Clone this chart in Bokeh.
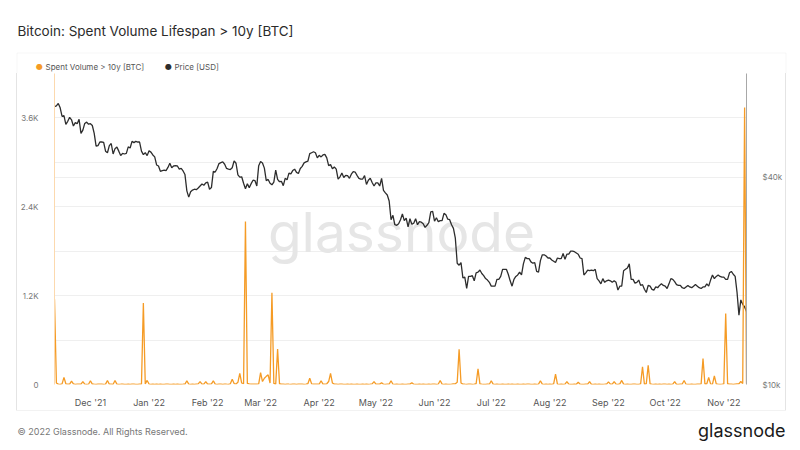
import pandas as pd
from bokeh.plotting import figure
from bokeh.layouts import column, row
from bokeh.models import (Range1d, LogScale, LogAxis, FixedTicker, Grid, Label, Spacer,
                          BoxAnnotation, DatetimeTickFormatter)
from bokeh.embed import file_html
from bokeh.resources import INLINE

# ---------------- data ----------------
start_date = "2021-11-12"
end_date = "2022-11-13"

# Spent volume > 10y [BTC], daily
vol_nov21 = [1150, 20, 5, 3, 8, 97, 10, 4, 6, 45, 8, 3, 5, 4, 6, 40, 5, 3, 4]
vol_dec21 = [50, 6, 4, 3, 5, 4, 6, 3, 5, 55, 4, 6, 3, 55, 5, 3, 4, 6, 3, 2,
             4, 3, 5, 4, 3, 2, 4, 6, 1100, 8, 55]
vol_jan22 = [6, 3, 4, 2, 5, 3, 4, 2, 3, 5, 4, 3, 2, 4, 3, 5, 2, 3, 4, 6,
             50, 5, 3, 4, 2, 5, 8, 40, 6, 4, 40]
vol_feb22 = [5, 4, 8, 50, 6, 3, 4, 5, 3, 6, 4, 3, 10, 70, 12, 8, 30, 150, 20, 10,
             2200, 15, 8, 5, 6, 4, 5, 8]
vol_mar22 = [160, 40, 85, 110, 130, 20, 1240, 15, 5, 480, 10, 5, 4, 3, 6, 4, 3, 5, 4, 3,
             6, 4, 5, 3, 6, 10, 85, 8, 5, 4, 6]
vol_apr22 = [5, 50, 6, 4, 10, 40, 150, 20, 5, 4, 3, 5, 4, 3, 2, 4, 3, 5, 2, 3,
             4, 3, 2, 4, 3, 5, 3, 4, 8, 40]
vol_may22 = [6, 4, 5, 25, 4, 3, 5, 6, 50, 4, 3, 5, 2, 3, 4, 2, 3, 4, 5, 25,
             4, 3, 2, 4, 3, 5, 2, 3, 4, 3, 5]
vol_jun22 = [4, 3, 6, 55, 5, 3, 4, 2, 3, 5, 8, 10, 30, 475, 20, 6, 4, 3, 5, 4,
             3, 6, 10, 210, 8, 4, 3, 2, 5, 4]
vol_jul22 = [50, 5, 3, 4, 2, 3, 4, 3, 2, 5, 3, 4, 2, 3, 5, 3, 2, 4, 3, 5,
             4, 3, 2, 4, 3, 6, 50, 5, 3, 4, 2]
vol_aug22 = [4, 3, 8, 140, 6, 3, 4, 2, 5, 40, 4, 3, 2, 5, 3, 30, 4, 3, 2, 5,
             4, 40, 3, 2, 4, 3, 5, 2, 3, 4, 6]
vol_sep22 = [35, 6, 5, 40, 4, 3, 8, 55, 5, 3, 4, 2, 3, 5, 4, 3, 2, 8, 240, 6,
             10, 260, 8, 4, 3, 5, 2, 4, 3, 5]
vol_oct22 = [4, 3, 5, 2, 4, 40, 3, 2, 4, 6, 55, 4, 3, 2, 4, 3, 2, 5, 4, 8,
             350, 6, 10, 95, 8, 6, 115, 8, 4, 3, 5]
vol_nov22 = [8, 960, 10, 5, 4, 3, 6, 8, 10, 40, 12, 3740, 15]

# Price [USD], daily, in thousands
px_nov21 = [64.1, 64.4, 65.5, 63.6, 60.1, 60.4, 56.9, 58.1, 59.7, 58.7, 56.3, 57.6, 57.2,
            58.9, 53.6, 54.8, 57.3, 57.8, 57.0]
px_dec21 = [57.2, 56.5, 53.6, 49.2, 49.4, 50.6, 50.6, 50.5, 47.6, 47.1, 49.4, 50.1, 46.7,
            48.4, 48.9, 47.6, 46.2, 46.9, 46.7, 46.9, 49.0, 48.6, 50.8, 50.4, 50.8, 50.6,
            50.6, 47.6, 46.5, 47.1, 46.2]
px_jan22 = [47.7, 47.3, 46.4, 45.8, 43.4, 43.1, 41.6, 41.8, 41.9, 41.8, 42.7, 43.9, 42.6,
            43.1, 43.2, 43.1, 42.2, 42.4, 41.7, 40.7, 36.5, 35.0, 36.3, 36.7, 36.9, 36.8,
            37.2, 37.7, 38.2, 37.9, 38.5]
px_feb22 = [38.7, 36.9, 37.3, 41.6, 41.4, 42.4, 43.8, 44.1, 44.3, 43.6, 42.4, 42.2, 42.1,
            42.6, 44.6, 43.9, 40.6, 40.0, 40.1, 38.4, 37.0, 38.3, 37.3, 38.3, 39.2, 39.1,
            37.7, 43.2]
px_mar22 = [44.4, 44.0, 42.5, 39.1, 39.4, 38.4, 38.0, 38.7, 41.9, 39.4, 38.8, 38.9, 37.8,
            39.7, 39.3, 41.1, 40.9, 41.8, 42.2, 41.3, 41.0, 42.4, 43.0, 44.0, 44.3, 44.5,
            46.8, 47.1, 47.4, 47.1, 45.5]
px_apr22 = [46.3, 45.8, 46.4, 46.6, 45.5, 43.2, 43.5, 42.3, 42.8, 42.2, 39.5, 40.1, 41.1,
            39.9, 40.5, 40.4, 39.7, 40.8, 41.5, 41.4, 40.5, 39.7, 39.5, 39.5, 40.4, 38.1,
            39.2, 39.7, 38.6, 37.7]
px_may22 = [38.5, 38.5, 37.7, 39.7, 36.6, 36.0, 35.5, 34.1, 30.1, 31.0, 29.1, 29.0, 29.3,
            30.1, 31.3, 29.9, 30.4, 28.7, 30.3, 29.2, 29.4, 30.3, 29.1, 29.7, 29.6, 29.3,
            28.6, 29.0, 29.5, 31.7, 31.8]
px_jun22 = [29.8, 30.5, 29.7, 29.9, 29.9, 31.4, 31.1, 30.2, 30.1, 29.1, 28.4, 26.6, 22.5,
            22.2, 22.6, 20.4, 20.5, 19.0, 20.6, 20.6, 20.7, 20.0, 21.1, 21.2, 21.5, 21.0,
            20.7, 20.3, 20.1, 19.8]
px_jul22 = [19.3, 19.3, 19.3, 20.2, 20.2, 20.6, 21.6, 21.6, 21.6, 20.9, 20.0, 19.3, 20.2,
            20.6, 20.8, 21.2, 20.8, 22.4, 23.4, 23.2, 23.2, 22.7, 22.5, 22.6, 21.3, 21.2,
            22.9, 23.8, 23.8, 23.6, 23.3]
px_aug22 = [23.3, 23.0, 22.8, 22.6, 23.3, 23.2, 23.2, 24.0, 23.1, 23.9, 23.9, 24.4, 24.4,
            24.3, 24.1, 23.9, 23.3, 23.2, 20.8, 21.1, 21.5, 21.4, 21.5, 21.4, 21.6, 20.3,
            20.0, 19.6, 20.3, 19.8, 20.0]
px_sep22 = [20.1, 20.0, 19.8, 20.0, 19.8, 18.8, 19.3, 19.3, 21.4, 21.6, 21.8, 22.4, 20.2,
            20.2, 19.7, 19.8, 20.1, 19.4, 19.5, 18.9, 18.5, 19.4, 19.3, 18.9, 18.8, 19.2,
            19.1, 19.4, 19.6, 19.4]
px_oct22 = [19.3, 19.0, 19.6, 20.3, 20.2, 19.9, 19.5, 19.4, 19.4, 19.1, 19.0, 19.2, 19.4,
            19.2, 19.1, 19.3, 19.5, 19.3, 19.1, 19.0, 19.2, 19.2, 19.6, 19.3, 20.1, 20.8,
            20.3, 20.6, 20.8, 20.6, 20.5]
px_nov22 = [20.5, 20.2, 20.2, 21.1, 21.3, 20.9, 20.6, 18.5, 15.9, 17.6, 17.1, 16.8, 16.3]

x_tick_start = "2021-12-01"
x_tick_end = "2022-11-01"
left_ticks = [0, 1200, 2400, 3600]
left_tick_labels = ["0", "1.2K", "2.4K", "3.6K"]
left_grid = [0, 600, 1200, 1800, 2400, 3000, 3600, 4200]
right_ticks = [10000, 40000]
right_tick_labels = ["$10k", "$40k"]
series_names = ["Spent Volume > 10y [BTC]", "Price [USD]"]
title_text = "Bitcoin: Spent Volume Lifespan > 10y [BTC]"
footer_text = "© 2022 Glassnode. All Rights Reserved."
brand_text = "glassnode"

# ---------------- build ----------------
dates = pd.date_range(start_date, end_date, freq="D")
x = [d.value / 1e6 for d in dates]
volume = (vol_nov21 + vol_dec21 + vol_jan22 + vol_feb22 + vol_mar22 + vol_apr22 +
          vol_may22 + vol_jun22 + vol_jul22 + vol_aug22 + vol_sep22 + vol_oct22 + vol_nov22)
price_k = (px_nov21 + px_dec21 + px_jan22 + px_feb22 + px_mar22 + px_apr22 + px_may22 +
           px_jun22 + px_jul22 + px_aug22 + px_sep22 + px_oct22 + px_nov22)
price = [v * 1000 for v in price_k]
xticks = [d.value / 1e6 for d in pd.date_range(x_tick_start, x_tick_end, freq="MS")]

ORANGE = "#f59b25"
DARK = "#2d2d2d"
FONT = "Inter"
BOX = "#e4e4e4"


def blank(w, h):
    f = figure(width=w, height=h, x_range=Range1d(0, w), y_range=Range1d(h, 0),
               output_backend="svg", toolbar_location=None,
               x_axis_location=None, y_axis_location=None,
               min_border=0, min_border_left=0, min_border_right=0,
               min_border_top=0, min_border_bottom=0)
    f.grid.visible = False
    f.outline_line_color = None
    f.background_fill_color = "white"
    f.border_fill_color = "white"
    return f


# header (page y 0..73): title, legend, top part of the box
head = blank(800, 73)
head.add_layout(BoxAnnotation(left=16.5, right=785.5, top=52.5, bottom=90,
                              fill_alpha=0, line_color=BOX, line_width=1))
head.add_layout(Label(x=17, y=30, text=title_text, text_font=FONT, text_font_size="13.5px",
                      text_color="#2b2b2b", text_baseline="middle"))
head.add_layout(Label(x=39, y=66, text="●", text_font="DejaVu Sans", text_font_size="8px",
                      text_color=ORANGE, text_align="center", text_baseline="middle"))
head.add_layout(Label(x=45, y=66, text=series_names[0], text_font=FONT, text_font_size="8px",
                      text_color="#555555", text_baseline="middle"))
head.add_layout(Label(x=168, y=66, text="●", text_font="DejaVu Sans", text_font_size="8px",
                      text_color=DARK, text_align="center", text_baseline="middle"))
head.add_layout(Label(x=174, y=66, text=series_names[1], text_font=FONT, text_font_size="8px",
                      text_color="#555555", text_baseline="middle"))

# main chart (page x 17..785, y 73..410)
p = figure(width=768, height=337, x_axis_type="datetime",
           x_range=Range1d(x[0], x[-1]), y_range=Range1d(0, 4200),
           output_backend="svg", toolbar_location=None,
           min_border_left=36, min_border_right=38, min_border_top=0, min_border_bottom=22)
p.outline_line_color = None
p.background_fill_color = "white"
p.border_fill_color = "white"
p.styles = {"box-shadow": f"-1px 0 0 {BOX}, 1px 0 0 {BOX}, 0 1px 0 {BOX}, 1px 1px 0 {BOX}, -1px 1px 0 {BOX}"}

p.extra_y_ranges = {"price": Range1d(10000, 80000)}
p.extra_y_scales = {"price": LogScale()}

p.xgrid.visible = False
p.ygrid.ticker = FixedTicker(ticks=left_grid)
p.ygrid.grid_line_color = "#efefef"
rgrid = Grid(dimension=1, ticker=FixedTicker(ticks=[40000]), y_range_name="price",
             grid_line_color="#efefef")
p.add_layout(rgrid)

ya = p.yaxis[0]
ya.ticker = FixedTicker(ticks=left_ticks)
ya.major_label_overrides = dict(zip(left_ticks, left_tick_labels))
ya.axis_line_color = "#fcd9ae"
ya.major_tick_line_color = None
ya.minor_tick_line_color = None
ya.major_label_text_font = FONT
ya.major_label_text_font_size = "8px"
ya.major_label_text_color = "#777777"
ya.major_label_text_baseline = "alphabetic"
ya.major_label_standoff = 10

xa = p.xaxis[0]
xa.ticker = FixedTicker(ticks=xticks)
xa.formatter = DatetimeTickFormatter(days="%b '%y", months="%b '%y", years="%b '%y")
xa.axis_line_color = None
xa.major_tick_line_color = None
xa.minor_tick_line_color = None
xa.major_label_text_font = FONT
xa.major_label_text_font_size = "9px"
xa.major_label_text_color = "#555555"
xa.major_label_standoff = 6

ra = LogAxis(y_range_name="price", ticker=FixedTicker(ticks=right_ticks),
             major_label_overrides=dict(zip(right_ticks, right_tick_labels)))
ra.axis_line_color = "#a8a8a8"
ra.major_tick_line_color = None
ra.minor_tick_line_color = None
ra.major_label_text_font = FONT
ra.major_label_text_font_size = "8px"
ra.major_label_text_color = "#777777"
ra.major_label_text_baseline = "alphabetic"
ra.major_label_standoff = 10
p.add_layout(ra, "right")

p.add_layout(Label(x=384, y=158, x_units="canvas", y_units="canvas", text=brand_text,
                   text_font=FONT, text_font_size="55px", text_color="#e6e6e6",
                   text_align="center", text_baseline="alphabetic", level="underlay"))

p.line(x, price, y_range_name="price", line_color=DARK, line_width=1.3)
p.line(x, volume, line_color=ORANGE, line_width=1.3)

# footer (page y 410..450)
foot = blank(800, 40)
foot.add_layout(Label(x=17, y=21, text=footer_text, text_font=FONT,
                      text_font_size="9px", text_color="#777777", text_baseline="middle"))
foot.add_layout(Label(x=785, y=20, text=brand_text, text_font=FONT, text_font_size="18px",
                      text_color="#1a1a1a", text_align="right", text_baseline="middle"))

layout = column(head, row(Spacer(width=17, height=337), p), foot)
open("out.html", "w").write(file_html(layout, INLINE))
